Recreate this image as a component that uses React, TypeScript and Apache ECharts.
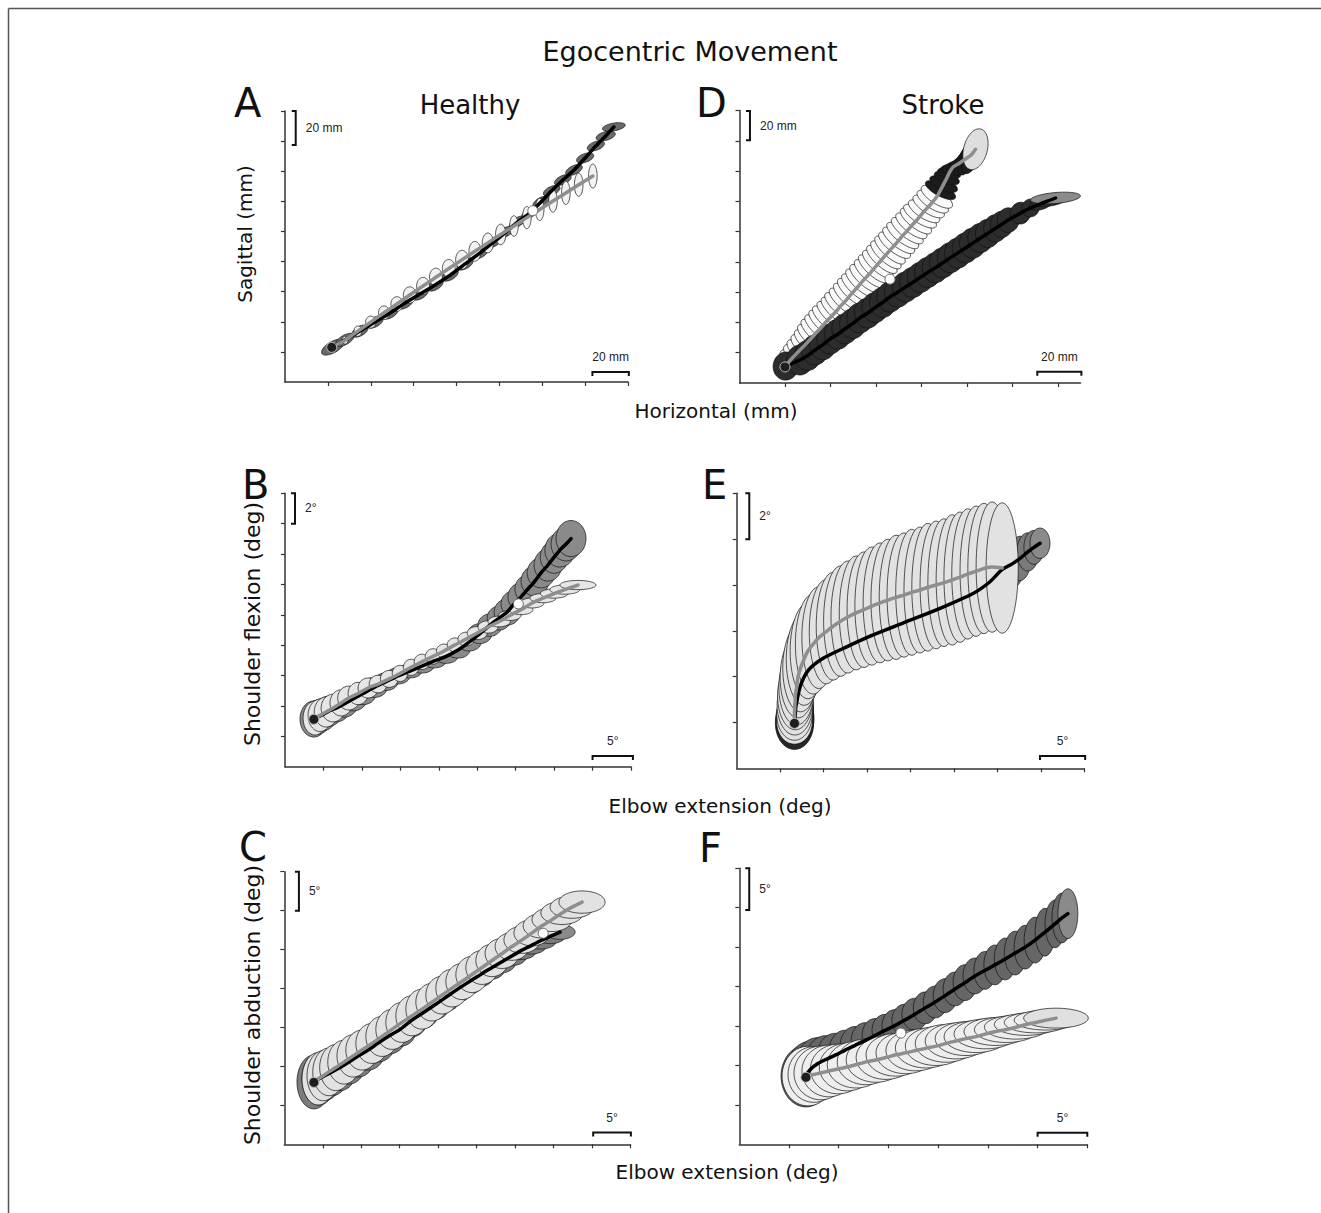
import { useEffect, useRef } from "react";
import * as echarts from "echarts";

// Each ellipse: [x, y, semi-axis a, semi-axis b, angle in degrees] in axis tick units
type Ell = number[];

// ---------- Panel A (Healthy, hand path) ----------
const aBlack: Ell[] = [
  [1.12, 1.16, 0.30, 0.13, 30], [1.40, 1.40, 0.24, 0.11, 30], [1.75, 1.69, 0.21, 0.11, 30],
  [2.10, 1.99, 0.21, 0.11, 30], [2.45, 2.29, 0.21, 0.11, 30], [2.80, 2.62, 0.21, 0.11, 30],
  [3.15, 2.92, 0.21, 0.11, 30], [3.50, 3.22, 0.21, 0.11, 30], [3.85, 3.55, 0.21, 0.11, 30],
  [4.20, 3.92, 0.21, 0.11, 30], [4.55, 4.29, 0.21, 0.11, 30], [4.87, 4.65, 0.21, 0.10, 30],
  [5.15, 4.98, 0.21, 0.10, 30], [5.43, 5.32, 0.21, 0.10, 30], [5.71, 5.61, 0.21, 0.10, 30],
  [5.97, 5.98, 0.21, 0.10, 30], [6.22, 6.35, 0.21, 0.10, 25], [6.48, 6.71, 0.21, 0.10, 25],
  [6.74, 7.04, 0.21, 0.10, 25], [7.00, 7.44, 0.21, 0.10, 20], [7.25, 7.84, 0.21, 0.10, 20],
  [7.48, 8.17, 0.23, 0.10, 15], [7.67, 8.47, 0.27, 0.09, 10],
];
const aGray: Ell[] = [
  [1.40, 1.39, 0.07, 0.09, 0], [1.70, 1.69, 0.09, 0.12, 0], [2.00, 1.99, 0.12, 0.14, 0],
  [2.31, 2.30, 0.13, 0.16, 0], [2.61, 2.59, 0.14, 0.17, 0], [2.91, 2.89, 0.15, 0.19, 0],
  [3.22, 3.19, 0.15, 0.20, 0], [3.52, 3.48, 0.15, 0.21, 0], [3.82, 3.77, 0.15, 0.21, 0],
  [4.13, 4.06, 0.15, 0.22, 0], [4.43, 4.34, 0.14, 0.23, 0], [4.73, 4.62, 0.13, 0.23, 0],
  [5.03, 4.90, 0.12, 0.24, 0], [5.34, 5.18, 0.10, 0.24, 0], [5.64, 5.46, 0.10, 0.26, 0],
  [5.94, 5.73, 0.10, 0.26, 0], [6.25, 6.01, 0.10, 0.26, 0], [6.55, 6.28, 0.10, 0.27, 0],
  [6.85, 6.55, 0.10, 0.27, 0], [7.18, 6.84, 0.10, 0.28, 0],
];
const aStart = [1.09, 1.15];
const aPeak = [5.78, 5.69];

// ---------- Panel D (Stroke, hand path) ----------
const dGray: Ell[] = [
  [1.05, 0.63, 0.26, 0.15, -42], [1.13, 0.77, 0.29, 0.15, -42], [1.22, 0.92, 0.31, 0.15, -42],
  [1.31, 1.06, 0.33, 0.15, -42], [1.41, 1.21, 0.35, 0.15, -42], [1.50, 1.35, 0.37, 0.15, -42],
  [1.59, 1.50, 0.40, 0.15, -42], [1.68, 1.65, 0.42, 0.15, -42], [1.77, 1.79, 0.43, 0.15, -42],
  [1.86, 1.94, 0.43, 0.15, -42], [1.94, 2.08, 0.43, 0.15, -42], [2.04, 2.23, 0.43, 0.15, -42],
  [2.13, 2.37, 0.43, 0.15, -42], [2.21, 2.52, 0.43, 0.15, -42], [2.31, 2.67, 0.43, 0.15, -42],
  [2.40, 2.83, 0.43, 0.15, -42], [2.49, 2.99, 0.43, 0.15, -42], [2.58, 3.14, 0.43, 0.15, -42],
  [2.67, 3.30, 0.43, 0.15, -42], [2.76, 3.45, 0.43, 0.15, -42], [2.86, 3.61, 0.43, 0.15, -42],
  [2.95, 3.77, 0.43, 0.15, -42], [3.04, 3.92, 0.43, 0.15, -42], [3.13, 4.08, 0.43, 0.15, -42],
  [3.22, 4.23, 0.43, 0.15, -42], [3.31, 4.39, 0.43, 0.15, -42], [3.41, 4.55, 0.43, 0.15, -38],
  [3.50, 4.71, 0.43, 0.15, -38], [3.59, 4.87, 0.43, 0.15, -38], [3.69, 5.03, 0.43, 0.15, -38],
  [3.78, 5.19, 0.42, 0.15, -38], [3.88, 5.35, 0.42, 0.15, -38], [3.97, 5.51, 0.42, 0.15, -33],
  [4.06, 5.67, 0.40, 0.15, -33], [4.16, 5.83, 0.40, 0.15, -33], [4.25, 5.99, 0.40, 0.15, -33],
  [4.34, 6.15, 0.40, 0.15, -33],
  // dense "neck" near the end of the movement
  [4.42, 6.37, 0.37, 0.13, -28], [4.49, 6.57, 0.33, 0.13, -25], [4.56, 6.77, 0.29, 0.12, -20],
  [4.61, 6.93, 0.26, 0.11, -12], [4.66, 7.06, 0.24, 0.11, 0], [4.71, 7.15, 0.26, 0.11, 20],
  [4.78, 7.21, 0.29, 0.11, 40], [4.86, 7.28, 0.33, 0.12, 55], [4.93, 7.36, 0.37, 0.13, 65],
  [5.01, 7.44, 0.40, 0.16, 70], [5.09, 7.52, 0.42, 0.19, 72], [5.19, 7.72, 0.46, 0.26, 75],
];
const dNeckFrom = 37;
const dBlack: Ell[] = [
  [1.02, 0.56, 0.31, 0.28, 80], [1.33, 0.76, 0.33, 0.29, 88], [1.50, 0.91, 0.33, 0.29, 90],
  [1.66, 1.09, 0.33, 0.29, 90], [1.83, 1.26, 0.33, 0.29, 90], [1.99, 1.45, 0.33, 0.29, 90],
  [2.16, 1.61, 0.33, 0.29, 90], [2.32, 1.79, 0.33, 0.29, 90], [2.49, 1.96, 0.33, 0.29, 90],
  [2.65, 2.15, 0.33, 0.29, 90], [2.82, 2.31, 0.33, 0.29, 90], [2.98, 2.49, 0.33, 0.29, 90],
  [3.15, 2.66, 0.33, 0.29, 90], [3.31, 2.84, 0.33, 0.29, 90], [3.48, 3.00, 0.33, 0.29, 90],
  [3.65, 3.17, 0.33, 0.29, 90], [3.81, 3.32, 0.33, 0.29, 90], [3.98, 3.49, 0.33, 0.29, 90],
  [4.14, 3.65, 0.33, 0.29, 90], [4.31, 3.81, 0.33, 0.29, 90], [4.47, 3.97, 0.33, 0.29, 90],
  [4.64, 4.14, 0.33, 0.29, 90], [4.80, 4.29, 0.33, 0.29, 90], [4.97, 4.46, 0.33, 0.29, 90],
  [5.13, 4.62, 0.33, 0.29, 90], [5.30, 4.79, 0.32, 0.28, 90], [5.46, 4.94, 0.31, 0.27, 90],
  [5.63, 5.11, 0.30, 0.26, 88], [5.77, 5.24, 0.29, 0.25, 86], [5.91, 5.38, 0.27, 0.24, 85],
  [6.18, 5.61, 0.24, 0.22, 80], [6.40, 5.78, 0.20, 0.19, 60], [6.62, 5.92, 0.26, 0.13, 15],
  [6.80, 6.02, 0.40, 0.12, 8], [6.95, 6.11, 0.55, 0.12, 5],
];
const dStart = [1.0, 0.53];
const dPeak = [3.31, 3.43];

// ---------- Panel B (Healthy, joint space) ----------
const bBlack: Ell[] = [
  [0.75, 1.57, 0.36, 0.47, 0], [0.86, 1.64, 0.36, 0.44, 0], [0.99, 1.72, 0.36, 0.42, 0],
  [1.14, 1.83, 0.36, 0.39, 0], [1.33, 1.93, 0.36, 0.36, 0], [1.53, 2.06, 0.36, 0.34, 0],
  [1.77, 2.23, 0.36, 0.31, 0], [2.03, 2.41, 0.34, 0.29, 0], [2.32, 2.61, 0.34, 0.26, 0],
  [2.63, 2.80, 0.31, 0.23, 0], [2.94, 2.99, 0.31, 0.21, 0], [3.25, 3.15, 0.31, 0.18, 0],
  [3.56, 3.31, 0.31, 0.18, 0], [3.88, 3.48, 0.31, 0.18, 0], [4.19, 3.63, 0.31, 0.18, 0],
  [4.50, 3.84, 0.31, 0.21, 0], [4.79, 4.10, 0.31, 0.23, 0], [5.07, 4.38, 0.31, 0.26, 0],
  [5.33, 4.66, 0.31, 0.29, 0], [5.57, 4.89, 0.31, 0.31, 0], [5.78, 5.09, 0.34, 0.34, 0],
  [5.96, 5.36, 0.34, 0.34, 0], [6.14, 5.59, 0.34, 0.36, 0], [6.32, 5.85, 0.34, 0.36, 0],
  [6.50, 6.11, 0.36, 0.39, 0], [6.66, 6.38, 0.36, 0.39, 0], [6.84, 6.64, 0.36, 0.42, 0],
  [7.00, 6.90, 0.36, 0.42, 0], [7.15, 7.13, 0.39, 0.44, 0], [7.31, 7.33, 0.39, 0.44, 0],
  [7.44, 7.51, 0.39, 0.47, 0],
];
const bGray: Ell[] = [
  [0.78, 1.60, 0.31, 0.44, 0], [0.91, 1.69, 0.31, 0.42, 0], [1.07, 1.80, 0.31, 0.39, 0],
  [1.25, 1.93, 0.31, 0.36, 0], [1.46, 2.10, 0.29, 0.34, 0], [1.66, 2.26, 0.29, 0.31, 0],
  [1.90, 2.41, 0.26, 0.29, 0], [2.16, 2.59, 0.26, 0.26, 0], [2.42, 2.72, 0.23, 0.23, 0],
  [2.71, 2.89, 0.23, 0.22, 0], [2.99, 3.07, 0.20, 0.21, 0], [3.28, 3.27, 0.20, 0.21, 0],
  [3.56, 3.45, 0.20, 0.20, 0], [3.85, 3.63, 0.20, 0.20, 0], [4.14, 3.81, 0.20, 0.18, 0],
  [4.42, 4.01, 0.20, 0.18, 0], [4.71, 4.20, 0.21, 0.18, 0], [5.00, 4.40, 0.26, 0.17, 0],
  [5.28, 4.60, 0.26, 0.16, 0], [5.57, 4.78, 0.29, 0.14, 0], [5.85, 4.98, 0.29, 0.13, 0],
  [6.14, 5.17, 0.31, 0.13, 0], [6.43, 5.39, 0.31, 0.13, 0], [6.71, 5.55, 0.34, 0.12, 0],
  [7.00, 5.70, 0.36, 0.12, 0], [7.28, 5.83, 0.39, 0.12, 0], [7.62, 5.98, 0.47, 0.12, 0],
];
const bStart = [0.75, 1.56];
const bPeak = [6.07, 5.36];

// ---------- Panel E (Stroke, joint space) ----------
const eBlack: Ell[] = [
  [1.33, 0.98, 0.44, 0.60, 0], [1.34, 1.08, 0.44, 0.58, 0], [1.35, 1.20, 0.42, 0.55, 0],
  [1.36, 1.34, 0.41, 0.52, 0], [1.46, 1.78, 0.37, 0.48, 0], [1.65, 2.14, 0.35, 0.46, 0],
  [1.99, 2.40, 0.32, 0.46, 0], [2.53, 2.65, 0.30, 0.51, 0], [3.14, 2.91, 0.30, 0.55, 0],
  [3.91, 3.20, 0.30, 0.60, 0], [4.68, 3.49, 0.30, 0.64, 0], [5.45, 3.82, 0.30, 0.67, 0],
  [5.83, 4.07, 0.30, 0.64, 0], [6.10, 4.33, 0.28, 0.60, 0], [6.34, 4.46, 0.28, 0.55, 0],
  [6.52, 4.58, 0.25, 0.51, 0], [6.70, 4.72, 0.25, 0.44, 0], [6.84, 4.82, 0.23, 0.39, 0],
  [6.98, 4.91, 0.23, 0.35, 0],
];
const eGray: Ell[] = [
  [1.33, 1.01, 0.41, 0.51, 0], [1.33, 1.18, 0.41, 0.60, 0], [1.34, 1.38, 0.41, 0.69, 0],
  [1.35, 1.58, 0.41, 0.78, 0], [1.38, 1.77, 0.41, 0.87, 0], [1.41, 1.99, 0.41, 0.94, 0],
  [1.47, 2.19, 0.41, 1.01, 0], [1.55, 2.38, 0.41, 1.06, 0], [1.64, 2.56, 0.41, 1.10, 0],
  [1.76, 2.71, 0.41, 1.15, 0], [1.89, 2.85, 0.39, 1.17, 0], [2.06, 2.98, 0.39, 1.20, 0],
  [2.22, 3.10, 0.39, 1.24, 0], [2.39, 3.21, 0.39, 1.27, 0], [2.56, 3.30, 0.39, 1.29, 0],
  [2.75, 3.39, 0.39, 1.31, 0], [2.93, 3.46, 0.39, 1.33, 0], [3.11, 3.54, 0.39, 1.36, 0],
  [3.30, 3.61, 0.39, 1.38, 0], [3.48, 3.67, 0.39, 1.40, 0], [3.67, 3.73, 0.39, 1.43, 0],
  [3.85, 3.78, 0.39, 1.43, 0], [4.03, 3.84, 0.37, 1.45, 0], [4.22, 3.89, 0.37, 1.45, 0],
  [4.40, 3.95, 0.37, 1.47, 0], [4.59, 4.00, 0.37, 1.47, 0], [4.77, 4.05, 0.37, 1.47, 0],
  [4.96, 4.11, 0.37, 1.50, 0], [5.14, 4.17, 0.37, 1.50, 0], [5.32, 4.24, 0.37, 1.50, 0],
  [5.51, 4.30, 0.37, 1.50, 0], [5.69, 4.36, 0.37, 1.50, 0], [5.88, 4.39, 0.37, 1.50, 0],
  [6.11, 4.37, 0.37, 1.50, 0],
];
const eStart = [1.33, 0.98];
const ePeak: number[] | null = null;

// ---------- Panel C (Healthy, joint space) ----------
const cBlack: Ell[] = [
  [0.77, 1.60, 0.44, 0.70, 0], [0.90, 1.68, 0.44, 0.68, 0], [1.06, 1.77, 0.44, 0.65, 0],
  [1.24, 1.86, 0.44, 0.62, 0], [1.45, 1.97, 0.44, 0.60, 0], [1.68, 2.11, 0.44, 0.57, 0],
  [1.92, 2.27, 0.44, 0.55, 0], [2.18, 2.42, 0.44, 0.52, 0], [2.44, 2.60, 0.44, 0.49, 0],
  [2.72, 2.78, 0.44, 0.47, 0], [3.01, 2.95, 0.42, 0.44, 0], [3.29, 3.17, 0.42, 0.42, 0],
  [3.58, 3.36, 0.42, 0.39, 0], [3.87, 3.55, 0.42, 0.36, 0], [4.15, 3.74, 0.42, 0.34, 0],
  [4.44, 3.94, 0.42, 0.31, 0], [4.72, 4.12, 0.42, 0.29, 0], [5.01, 4.30, 0.42, 0.27, 0],
  [5.30, 4.48, 0.42, 0.26, 0], [5.58, 4.64, 0.42, 0.25, 0], [5.87, 4.81, 0.42, 0.23, 0],
  [6.13, 4.96, 0.42, 0.22, 0], [6.39, 5.09, 0.42, 0.21, 0], [6.65, 5.22, 0.42, 0.21, 0],
  [6.91, 5.34, 0.39, 0.19, 0], [7.17, 5.45, 0.39, 0.19, 0],
];
const cGray: Ell[] = [
  [0.88, 1.68, 0.42, 0.68, 0], [1.01, 1.76, 0.42, 0.65, 0], [1.16, 1.86, 0.42, 0.62, 0],
  [1.34, 1.97, 0.42, 0.60, 0], [1.55, 2.11, 0.42, 0.57, 0], [1.79, 2.27, 0.42, 0.55, 0],
  [2.02, 2.42, 0.42, 0.52, 0], [2.28, 2.59, 0.42, 0.52, 0], [2.54, 2.77, 0.42, 0.52, 0],
  [2.80, 2.95, 0.42, 0.52, 0], [3.06, 3.13, 0.42, 0.52, 0], [3.32, 3.30, 0.42, 0.52, 0],
  [3.58, 3.47, 0.42, 0.52, 0], [3.84, 3.65, 0.42, 0.49, 0], [4.10, 3.83, 0.42, 0.49, 0],
  [4.36, 4.01, 0.42, 0.49, 0], [4.62, 4.18, 0.42, 0.47, 0], [4.88, 4.36, 0.42, 0.47, 0],
  [5.14, 4.54, 0.42, 0.44, 0], [5.40, 4.72, 0.42, 0.42, 0], [5.66, 4.90, 0.44, 0.39, 0],
  [5.92, 5.08, 0.44, 0.36, 0], [6.18, 5.25, 0.47, 0.35, 0], [6.44, 5.43, 0.47, 0.34, 0],
  [6.70, 5.61, 0.49, 0.32, 0], [6.96, 5.77, 0.52, 0.31, 0], [7.22, 5.94, 0.55, 0.30, 0],
  [7.48, 6.09, 0.57, 0.29, 0], [7.74, 6.22, 0.60, 0.29, 0],
];
const cStart = [0.77, 1.59];
const cPeak = [6.73, 5.42];

// ---------- Panel F (Stroke, joint space) ----------
const fBlack: Ell[] = [
  [1.34, 1.73, 0.50, 0.62, 0], [1.44, 1.91, 0.48, 0.56, 0], [1.58, 2.05, 0.44, 0.52, 0],
  [1.74, 2.15, 0.40, 0.48, 0], [1.93, 2.26, 0.36, 0.44, 0], [2.13, 2.39, 0.32, 0.40, 0],
  [2.33, 2.51, 0.30, 0.38, 0], [2.53, 2.63, 0.28, 0.36, 0], [2.73, 2.76, 0.26, 0.34, 0],
  [2.93, 2.89, 0.26, 0.32, 0], [3.13, 3.01, 0.26, 0.32, 0], [3.33, 3.15, 0.26, 0.32, 0],
  [3.53, 3.30, 0.26, 0.32, 0], [3.74, 3.46, 0.24, 0.32, 0], [3.94, 3.61, 0.24, 0.32, 0],
  [4.14, 3.77, 0.24, 0.34, 0], [4.34, 3.94, 0.24, 0.34, 0], [4.54, 4.10, 0.24, 0.36, 0],
  [4.74, 4.27, 0.24, 0.36, 0], [4.94, 4.41, 0.22, 0.38, 0], [5.14, 4.55, 0.22, 0.40, 0],
  [5.35, 4.70, 0.22, 0.42, 0], [5.55, 4.85, 0.22, 0.44, 0], [5.75, 5.00, 0.22, 0.44, 0],
  [5.95, 5.18, 0.22, 0.46, 0], [6.15, 5.38, 0.20, 0.48, 0], [6.35, 5.59, 0.20, 0.48, 0],
  [6.49, 5.74, 0.20, 0.50, 0], [6.61, 5.85, 0.20, 0.50, 0],
];
const fGray: Ell[] = [
  [1.38, 1.73, 0.52, 0.60, 0], [1.50, 1.77, 0.52, 0.56, 0], [1.64, 1.81, 0.54, 0.54, 0],
  [1.80, 1.86, 0.54, 0.52, 0], [1.99, 1.91, 0.56, 0.50, 0], [2.17, 1.96, 0.56, 0.48, 0],
  [2.35, 2.02, 0.58, 0.47, 0], [2.55, 2.09, 0.58, 0.46, 0], [2.75, 2.14, 0.60, 0.45, 0],
  [2.95, 2.20, 0.60, 0.44, 0], [3.15, 2.27, 0.60, 0.43, 0], [3.35, 2.32, 0.60, 0.42, 0],
  [3.55, 2.38, 0.60, 0.41, 0], [3.76, 2.44, 0.62, 0.40, 0], [3.96, 2.49, 0.62, 0.39, 0],
  [4.16, 2.56, 0.62, 0.38, 0], [4.36, 2.62, 0.62, 0.36, 0], [4.56, 2.68, 0.62, 0.34, 0],
  [4.76, 2.73, 0.64, 0.32, 0], [4.96, 2.80, 0.64, 0.30, 0], [5.16, 2.86, 0.64, 0.28, 0],
  [5.37, 2.91, 0.64, 0.26, 0], [5.57, 2.97, 0.64, 0.24, 0], [5.77, 3.04, 0.64, 0.22, 0],
  [5.97, 3.09, 0.64, 0.21, 0], [6.17, 3.15, 0.64, 0.20, 0], [6.37, 3.20, 0.65, 0.20, 0],
];
const fStart = [1.34, 1.70];
const fPeak = [3.25, 2.82];

// Scale bars: [panel, x1, y1, x2, y2, label]
const scaleBars: [number, number, number, number, number, string][] = [
  [0, 0.25, 9.0, 0.25, 7.87, "20 mm"], [0, 7.17, 0.33, 8.02, 0.33, "20 mm"],
  [1, 0.23, 8.98, 0.23, 8.02, "20 mm"], [1, 6.55, 0.37, 7.52, 0.37, "20 mm"],
  [2, 0.26, 9.0, 0.26, 8.0, "2°"], [2, 8.0, 0.35, 9.05, 0.35, "5°"],
  [3, 0.29, 6.0, 0.29, 5.0, "2°"], [3, 6.98, 0.27, 8.02, 0.27, "5°"],
  [4, 0.38, 7.0, 0.38, 6.0, "5°"], [4, 8.03, 0.3, 9.01, 0.3, "5°"],
  [5, 0.2, 7.0, 0.2, 5.94, "5°"], [5, 6.0, 0.29, 7.0, 0.29, "5°"],
];

// Axis extents (tick units)
const xMaxes = [8, 7.5, 9, 8, 9, 7];
const yMaxes = [9, 9, 9, 6, 7, 7];

// Layout of the six panels (pixels)
const gridBoxes = [
  { left: 285, top: 111, width: 343, height: 271 },
  { left: 739.5, top: 110.5, width: 341, height: 272.5 },
  { left: 285, top: 493.3, width: 346, height: 273.4 },
  { left: 736.7, top: 493.3, width: 347.6, height: 275 },
  { left: 284.3, top: 871.7, width: 346.2, height: 272.6 },
  { left: 739.3, top: 868.3, width: 348, height: 276 },
];

const panels = [
  { dark: aBlack, light: aGray, start: aStart, peak: aPeak, darkFill: "#6a6a6a", darkEnd: "#6a6a6a", lightFill: "#f2f2f2", lightEnd: "#f2f2f2", lightOnTop: true, neckFrom: -1, denseTo: 0 },
  { dark: dBlack, light: dGray, start: dStart, peak: dPeak, darkFill: "#2c2c2c", darkEnd: "#8a8a8a", lightFill: "#fafafa", lightEnd: "#dedede", lightOnTop: false, neckFrom: dNeckFrom, denseTo: 0 },
  { dark: bBlack, light: bGray, start: bStart, peak: bPeak, darkFill: "#8a8a8a", darkEnd: "#8a8a8a", lightFill: "#e6e6e6", lightEnd: "#e6e6e6", lightOnTop: true, neckFrom: -1, denseTo: 0 },
  { dark: eBlack, light: eGray, start: eStart, peak: ePeak, darkFill: "#7a7a7a", darkEnd: "#8a8a8a", lightFill: "#e2e2e2", lightEnd: "#e2e2e2", lightOnTop: true, neckFrom: -1, denseTo: 4 },
  { dark: cBlack, light: cGray, start: cStart, peak: cPeak, darkFill: "#7c7c7c", darkEnd: "#8a8a8a", lightFill: "#e2e2e2", lightEnd: "#e2e2e2", lightOnTop: true, neckFrom: -1, denseTo: 0 },
  { dark: fBlack, light: fGray, start: fStart, peak: fPeak, darkFill: "#666666", darkEnd: "#8a8a8a", lightFill: "#eeeeee", lightEnd: "#e0e0e0", lightOnTop: true, neckFrom: -1, denseTo: 0 },
];

const FONT = '"DejaVu Sans", "Liberation Sans", sans-serif';
const SMALL = '"Liberation Sans", Arial, sans-serif';

function ellipseSeries(gi: number, data: Ell[], fill: string, endFill: string, neckFrom = -1, denseTo = 0) {
  const n = data.length;
  return {
    type: "custom",
    xAxisIndex: gi,
    yAxisIndex: gi,
    silent: true,
    clip: false,
    z: 2,
    data: data.map((d) => [d[0], d[1], d[2], d[3], d[4] || 0]),
    encode: { x: 0, y: 1 },
    renderItem: (params: any, api: any) => {
      const c = api.coord([api.value(0), api.value(1)]);
      const a = api.size([api.value(2), 0])[0];
      const b = api.size([api.value(3), 0])[0];
      const t = (api.value(4) * Math.PI) / 180;
      const pts: number[][] = [];
      const N = 56;
      for (let k = 0; k < N; k++) {
        const u = (k / N) * Math.PI * 2;
        const ex = a * Math.cos(u);
        const ey = b * Math.sin(u);
        pts.push([c[0] + ex * Math.cos(t) - ey * Math.sin(t), c[1] - (ex * Math.sin(t) + ey * Math.cos(t))]);
      }
      const i = params.dataIndex;
      let f = fill;
      if (i === n - 1) f = endFill;
      else if (neckFrom >= 0 && i >= neckFrom) f = "#1c1c1c";
      else if (i < denseTo) f = "#262626";
      return {
        type: "polygon",
        shape: { points: pts },
        style: { fill: f, stroke: "#111", lineWidth: 0.7 },
      };
    },
  };
}

function pathSeries(gi: number, start: number[], data: Ell[], color: string) {
  return {
    type: "line",
    xAxisIndex: gi,
    yAxisIndex: gi,
    silent: true,
    z: 3,
    showSymbol: false,
    symbol: "none",
    smooth: 0.25,
    data: [start, ...data.map((d) => [d[0], d[1]])],
    lineStyle: { color, width: 3.5, cap: "round", join: "round" },
  };
}

function dotSeries(gi: number, pt: number[], fill: string, border: string) {
  return {
    type: "scatter",
    xAxisIndex: gi,
    yAxisIndex: gi,
    silent: true,
    z: 4,
    symbol: "circle",
    symbolSize: 10,
    data: [pt],
    itemStyle: { color: fill, borderColor: border, borderWidth: 1, opacity: 1 },
  };
}

function scaleBarSeries(gi: number) {
  const bars = scaleBars.filter((s) => s[0] === gi);
  return {
    type: "custom",
    xAxisIndex: gi,
    yAxisIndex: gi,
    silent: true,
    clip: false,
    z: 6,
    data: bars.map((s) => [s[1], s[2], s[3], s[4]]),
    encode: { x: 0, y: 1 },
    renderItem: (params: any, api: any) => {
      const s = bars[params.dataIndex];
      const p1 = api.coord([s[1], s[2]]);
      const p2 = api.coord([s[3], s[4]]);
      const vertical = s[1] === s[3];
      const cap = 4;
      const pts = vertical
        ? [[p1[0] - cap, p1[1]], [p1[0], p1[1]], [p2[0], p2[1]], [p2[0] - cap, p2[1]]]
        : [[p1[0], p1[1] + cap], [p1[0], p1[1]], [p2[0], p2[1]], [p2[0], p2[1] + cap]];
      const tx = vertical ? p1[0] + 10 : (p1[0] + p2[0]) / 2;
      const ty = vertical ? (p1[1] + p2[1]) / 2 : p1[1] - 15;
      return {
        type: "group",
        children: [
          { type: "polyline", shape: { points: pts }, style: { stroke: "#111", lineWidth: 2, fill: null } },
          {
            type: "text",
            x: tx,
            y: ty,
            style: {
              text: s[5],
              font: `12px ${SMALL}`,
              fill: "#222",
              align: vertical ? "left" : "center",
              verticalAlign: "middle",
              textAlign: vertical ? "left" : "center",
              textVerticalAlign: "middle",
            },
          },
        ],
      };
    },
  };
}

function txt(text: string, x: number, y: number, size: number, align = "center", rot = 0) {
  return {
    type: "text",
    x,
    y,
    rotation: rot,
    silent: true,
    style: {
      text,
      font: `${size}px ${FONT}`,
      fill: "#111",
      align,
      verticalAlign: "middle",
      textAlign: align,
      textVerticalAlign: "middle",
    },
  };
}

export default function App() {
  const ref = useRef<HTMLDivElement>(null);

  useEffect(() => {
    if (!ref.current) return;
    const chart = echarts.init(ref.current, undefined, { renderer: "svg" });

    const range = (n: number) => Array.from({ length: Math.floor(n) }, (_, i) => i + 1);
    const axisStyle = { lineStyle: { color: "#333", width: 1.5 } };

    const series: any[] = [];
    panels.forEach((p, i) => {
      const darkS = ellipseSeries(i, p.dark, p.darkFill, p.darkEnd, -1, p.denseTo);
      const lightS = ellipseSeries(i, p.light, p.lightFill, p.lightEnd, p.neckFrom, 0);
      if (p.lightOnTop) series.push(darkS, lightS);
      else series.push(lightS, darkS);
      series.push(pathSeries(i, p.start, p.dark, "#000"));
      series.push(pathSeries(i, p.start, p.light, "#8e8e8e"));
      series.push(dotSeries(i, p.start, "#1e1e1e", "#bdbdbd"));
      if (p.peak) series.push(dotSeries(i, p.peak, "#ffffff", "#6a6a6a"));
      series.push(scaleBarSeries(i));
    });

    const option: any = {
      animation: false,
      backgroundColor: "#ffffff",
      grid: gridBoxes.map((g) => ({ ...g, containLabel: false })),
      xAxis: gridBoxes.map((_, i) => ({
        type: "value",
        gridIndex: i,
        min: 0,
        max: xMaxes[i],
        interval: 1,
        axisLine: { show: true, onZero: false, ...axisStyle },
        axisTick: { show: true, length: 4, customValues: range(xMaxes[i]), lineStyle: { color: "#333", width: 1.2 } },
        axisLabel: { show: false },
        splitLine: { show: false },
      })),
      yAxis: gridBoxes.map((_, i) => ({
        type: "value",
        gridIndex: i,
        min: 0,
        max: yMaxes[i],
        interval: 1,
        axisLine: { show: true, onZero: false, ...axisStyle },
        axisTick: { show: true, length: 4, customValues: range(yMaxes[i]), lineStyle: { color: "#333", width: 1.2 } },
        axisLabel: { show: false },
        splitLine: { show: false },
      })),
      graphic: [
        { type: "line", silent: true, shape: { x1: 8.5, y1: 8.5, x2: 1321, y2: 8.5 }, style: { stroke: "#555", lineWidth: 1.5 } },
        { type: "line", silent: true, shape: { x1: 8.5, y1: 8.5, x2: 8.5, y2: 1213 }, style: { stroke: "#555", lineWidth: 1.5 } },
        txt("Egocentric Movement", 690, 51, 27),
        txt("Healthy", 470, 105, 26),
        txt("Stroke", 943, 105, 26),
        txt("A", 234, 103, 40, "left"),
        txt("D", 696, 103, 40, "left"),
        txt("B", 242, 485, 40, "left"),
        txt("E", 702, 485, 40, "left"),
        txt("C", 239, 847, 40, "left"),
        txt("F", 699, 848, 40, "left"),
        txt("Sagittal (mm)", 245, 234, 20, "center", Math.PI / 2),
        txt("Horizontal (mm)", 716, 411, 20),
        txt("Shoulder flexion (deg)", 252, 624, 22, "center", Math.PI / 2),
        txt("Elbow extension (deg)", 720, 806, 20),
        txt("Shoulder abduction (deg)", 252, 1005, 22, "center", Math.PI / 2),
        txt("Elbow extension (deg)", 727, 1172, 20),
      ],
      series,
    };

    chart.setOption(option);
    return () => chart.dispose();
  }, []);

  return (
    <div
      ref={ref}
      style={{ position: "absolute", left: 0, top: 0, width: 1321, height: 1213, background: "#fff" }}
    />
  );
}
